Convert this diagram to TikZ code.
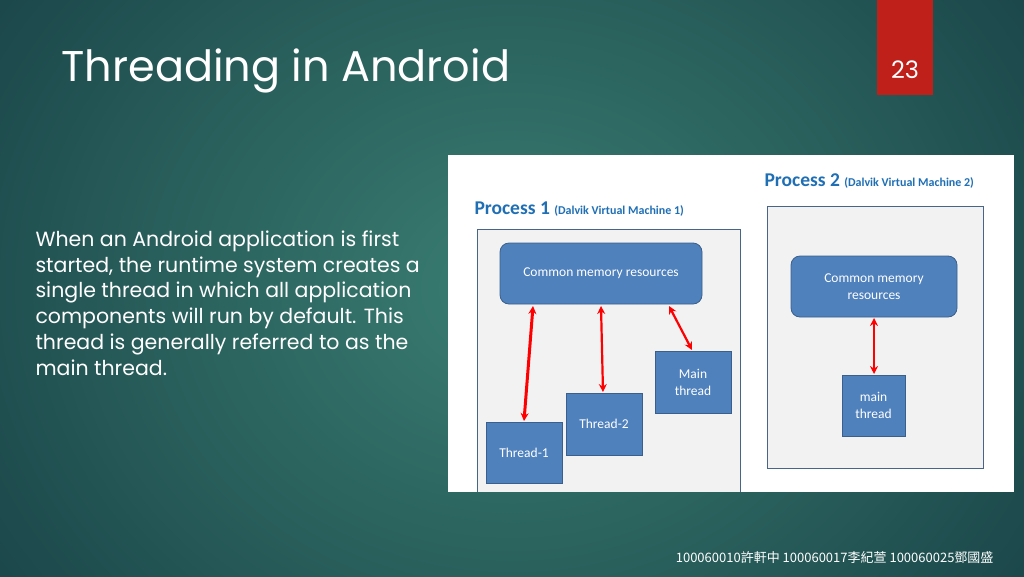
\documentclass[tikz,border=0pt]{standalone}
\usepackage{fontspec}
\setmainfont{Poppins}
\newfontfamily\calfont{Carlito}
\newfontfamily\cjkfont{Noto Sans CJK TC}
\usetikzlibrary{arrows.meta}
\definecolor{bgin}{HTML}{3A7E72}
\definecolor{bgout}{HTML}{12363E}
\definecolor{boxblue}{HTML}{4F81BD}
\definecolor{boxedge}{HTML}{3A5F8C}
\definecolor{ptitle}{HTML}{1F6FB5}
\definecolor{tabred}{HTML}{C0201A}
\tikzset{
 proc/.style={draw=boxedge!80!gray,fill=gray!10,line width=1pt},
 mem/.style={draw=boxedge,fill=boxblue,rounded corners=9pt,line width=0.8pt,text=white,font=\calfont\fontsize{13.5}{17}\selectfont,align=center},
 thr/.style={draw=boxedge,fill=boxblue,line width=0.8pt,text=white,font=\calfont\fontsize{13.5}{17}\selectfont,align=center},
 link/.style={red,line width=2.2pt,{Stealth[length=8pt,width=8pt]}-{Stealth[length=8pt,width=8pt]}},
}
\begin{document}
\begin{tikzpicture}[x=1pt,y=-1pt]
\useasboundingbox (0,0) rectangle (1024,576);
\shade[inner color=bgin,outer color=bgout] (-300,-400) rectangle (1324,976);
\fill[tabred] (877,0) rectangle (933,95);
\node[text=white,font=\fontsize{24}{28}\selectfont\mdseries] (num) at (905,70) {23};
\node[anchor=west,text=white,font=\fontsize{43}{50}\selectfont] (title) at (58,71) {Threading in Android};
\node[anchor=north west,text=white,align=left,font=\fontsize{20.5}{25.8}\selectfont] (body) at (32,227)
 {When an Android application is first\\started, the runtime system creates a\\single thread in which all application\\components will run by default. This\\thread is generally referred to as the\\main thread.};
\fill[white] (448,155) rectangle (1014,492);
\node[anchor=west,font=\calfont\bfseries\fontsize{19.5}{22}\selectfont,text=ptitle] (p1t) at (471,209) {Process 1 \fontsize{12}{14}\selectfont(Dalvik Virtual Machine 1)};
\node[anchor=west,font=\calfont\bfseries\fontsize{19.5}{22}\selectfont,text=ptitle] (p2t) at (761,181) {Process 2 \fontsize{12}{14}\selectfont(Dalvik Virtual Machine 2)};
\fill[gray!10] (477,229) rectangle (740,492);
\draw[proc] (477,492) -- (477,229) -- (740,229) -- (740,492);
\draw[proc] (767,206) rectangle (983,468);
\node[mem,minimum width=202pt,minimum height=61pt] (m1) at (601,273.5) {Common memory resources};
\node[mem,minimum width=166pt,minimum height=61pt] (m2) at (874,286.5) {Common memory\\resources};
\node[thr,minimum width=76pt,minimum height=61pt] (t1) at (524,452.5) {Thread-1};
\node[thr,minimum width=76pt,minimum height=62pt] (t2) at (604,424) {Thread-2};
\node[thr,minimum width=76pt,minimum height=62pt] (mt) at (693,382) {Main\\thread};
\node[thr,minimum width=63pt,minimum height=61pt] (mt2) at (873.5,405.5) {main\\thread};
\draw[link,line width=3pt] (533,306) -- (524,421);
\draw[link] (601,306) -- (603,392);
\draw[link] (669,306) -- (692,350);
\draw[link] (874,318) -- (874,374);
\node[anchor=east,text=white,font=\cjkfont\fontsize{13}{15}\selectfont] (foot) at (997,558) {100060010許軒中 100060017李紀萱 100060025鄧國盛};
\end{tikzpicture}
\end{document}
